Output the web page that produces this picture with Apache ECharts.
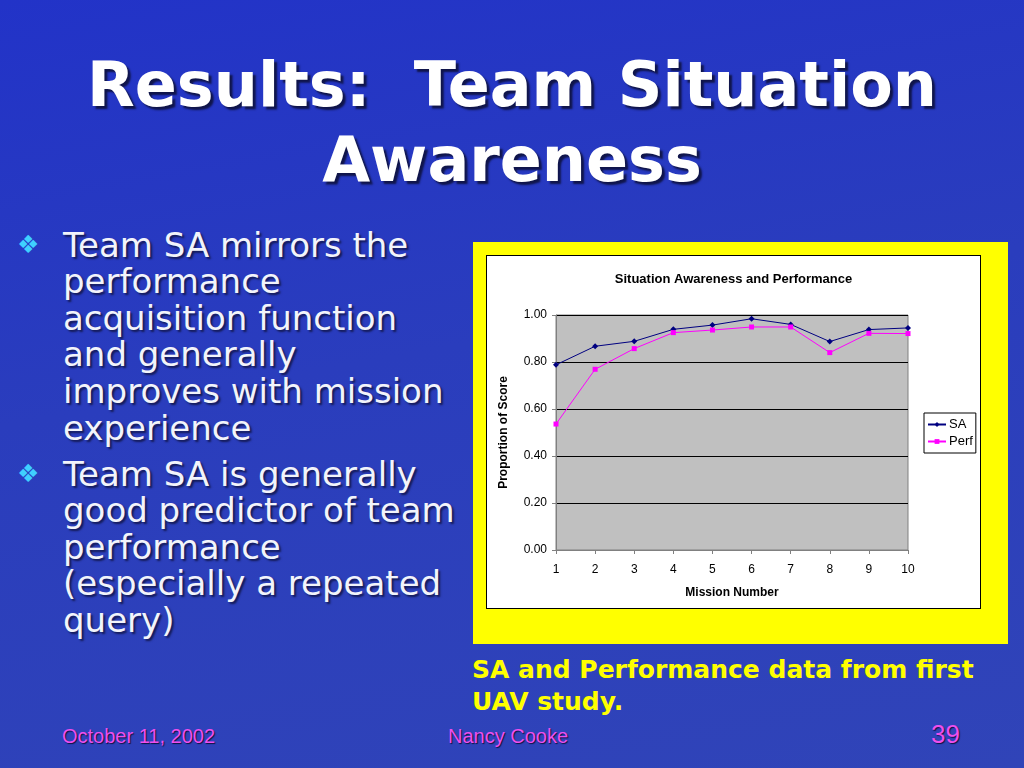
<!DOCTYPE html>
<html>
<head>
<meta charset="utf-8">
<script src="https://cdn.jsdelivr.net/npm/echarts@6/dist/echarts.min.js"></script>
<style>
  html, body { margin: 0; padding: 0; }
  body { width: 1024px; height: 768px; overflow: hidden; position: relative;
    background: linear-gradient(170deg, #2233c8 0%, #2a3dbd 45%, #3044b8 100%); font-family: "DejaVu Sans", Verdana, sans-serif; }
  .title { position: absolute; left: 0; width: 1024px; top: 47px; text-align: center; color: #ffffff; white-space: nowrap;
    font-family: "DejaVu Sans"; font-weight: bold; font-size: 62px; line-height: 75px; text-shadow: 3px 3px 2px #10154a; }
  .bul { position: absolute; left: 63px; color: #f2f4fb; font-family: "DejaVu Sans"; font-size: 34px; white-space: nowrap;
    line-height: 36.6px; text-shadow: 2px 2px 2px #141a55; }
  .dia { position: absolute; left: 17px; color: #3fd0ff; font-family: "DejaVu Sans"; font-size: 25px; }
  .ybox { position: absolute; left: 473px; top: 242px; width: 535px; height: 402px; background: #ffff00; }
  #chart { position: absolute; left: 487px; top: 256px; width: 493px; height: 352px; background: #ffffff; outline: 1px solid #000; }
  .cap { position: absolute; left: 472px; top: 654px; color: #ffff00; font-family: "DejaVu Sans"; font-weight: bold; white-space: nowrap;
    font-size: 25px; line-height: 32px; }
  .foot { position: absolute; color: #ee4fee; font-family: "Liberation Sans Narrow", "Liberation Sans"; font-size: 20px; text-shadow: 1px 1px 1px #101040; }
</style>
</head>
<body>
<div class="title">Results:&nbsp; Team Situation<br>Awareness</div>
<div class="dia" style="top:230px;">&#10070;</div>
<div class="bul" style="top:226.7px;">Team SA mirrors the<br>performance<br>acquisition function<br>and generally<br>improves with mission<br>experience</div>
<div class="dia" style="top:459px;">&#10070;</div>
<div class="bul" style="top:455.7px;">Team SA is generally<br>good predictor of team<br>performance<br>(especially a repeated<br>query)</div>
<div class="ybox"></div>
<div id="chart"></div>
<div class="cap">SA and Performance data from first<br>UAV study.</div>
<div class="foot" style="left:62px; top:725px;">October 11, 2002</div>
<div class="foot" style="left:448px; top:725px;">Nancy Cooke</div>
<div class="foot" style="left:931px; top:719px; font-size:26px;">39</div>
<script>
const categories = ['1','2','3','4','5','6','7','8','9','10'];
const saValues = [0.788, 0.867, 0.888, 0.939, 0.957, 0.984, 0.960, 0.887, 0.938, 0.945];
const perfValues = [0.536, 0.769, 0.857, 0.925, 0.936, 0.949, 0.949, 0.840, 0.922, 0.921];
const yTicks = { min: 0, max: 1, interval: 0.2 };

const chart = echarts.init(document.getElementById('chart'));
chart.setOption({
  animation: false,
  title: { text: 'Situation Awareness and Performance', left: 'center', top: 12,
    textStyle: { fontFamily: 'Liberation Sans', fontSize: 13, fontWeight: 'bold', color: '#000' } },
  grid: { left: 69, right: 72, top: 59, bottom: 58, show: true, backgroundColor: '#c0c0c0', borderColor: '#808080', borderWidth: 1 },
  legend: { orient: 'vertical', left: 437, top: 157, data: ['SA', 'Perf'], borderColor: '#000', borderWidth: 1,
    backgroundColor: '#fff', padding: [5, 3, 5, 3], itemGap: 4, itemWidth: 18, itemHeight: 6,
    textStyle: { fontFamily: 'Liberation Sans', fontSize: 13, color: '#000', padding: [0, 0, 0, -2] } },
  xAxis: { type: 'category', data: categories, boundaryGap: false,
    name: 'Mission Number', nameLocation: 'middle', nameGap: 37,
    nameTextStyle: { fontFamily: 'Liberation Sans', fontSize: 12, fontWeight: 'bold', color: '#000' },
    axisLine: { lineStyle: { color: '#808080' } }, axisTick: { show: true, length: 4, lineStyle: { color: '#808080' } },
    axisLabel: { fontFamily: 'Liberation Sans', fontSize: 12, color: '#000', margin: 14 }, splitLine: { show: false } },
  yAxis: { type: 'value', min: yTicks.min, max: yTicks.max, interval: yTicks.interval,
    name: 'Proportion of Score', nameLocation: 'middle', nameGap: 46,
    nameTextStyle: { fontFamily: 'Liberation Sans', fontSize: 12, fontWeight: 'bold', color: '#000' },
    axisLine: { show: true, lineStyle: { color: '#808080' } }, axisTick: { show: true, length: 4, lineStyle: { color: '#808080' } },
    axisLabel: { fontFamily: 'Liberation Sans', fontSize: 12, color: '#000', margin: 9, formatter: v => v.toFixed(2) },
    splitLine: { show: true, lineStyle: { color: '#000', width: 1 } } },
  series: [
    { name: 'SA', type: 'line', data: saValues, symbol: 'diamond', symbolSize: 6, color: '#000080',
      lineStyle: { width: 1, color: '#000080' }, itemStyle: { color: '#000080' } },
    { name: 'Perf', type: 'line', data: perfValues, symbol: 'rect', symbolSize: 5, color: '#ff00ff',
      lineStyle: { width: 1, color: '#ff00ff' }, itemStyle: { color: '#ff00ff' } }
  ]
});
</script>
</body>
</html>
